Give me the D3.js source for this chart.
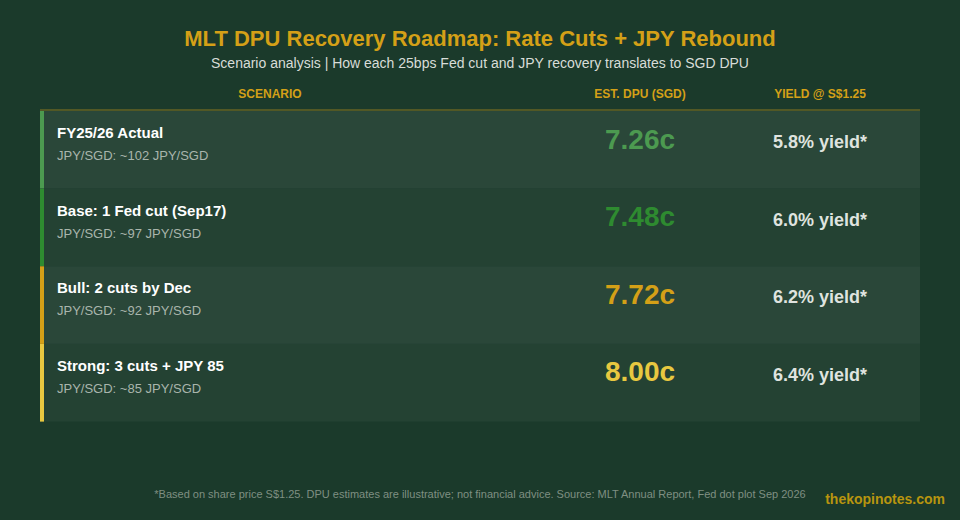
<!DOCTYPE html>
<html>
<head>
<meta charset="utf-8">
<script src="https://cdn.jsdelivr.net/npm/d3@7"></script>
<style>
  html, body { margin: 0; padding: 0; background: #1b3a2b; }
  svg { display: block; font-family: "Liberation Sans", Arial, Helvetica, sans-serif; }
</style>
</head>
<body>
<div id="chart"></div>
<script>
// scenario rows, top to bottom
const scenarios = ["FY25/26 Actual", "Base: 1 Fed cut (Sep17)", "Bull: 2 cuts by Dec", "Strong: 3 cuts + JPY 85"];
const jpySgd = [102, 97, 92, 85];
const dpu = [7.26, 7.48, 7.72, 8.00];
const yields = [5.8, 6.0, 6.2, 6.4];
const accents = ["#4c9a50", "#2e8b30", "#d4a017", "#e8c840"];
const columns = ["SCENARIO", "EST. DPU (SGD)", "YIELD @ S$1.25"];

const width = 960, height = 520;
const gold = "#d4a017";

const svg = d3.select("#chart").append("svg")
    .attr("width", width)
    .attr("height", height)
    .attr("viewBox", [0, 0, width, height]);

svg.append("rect")
    .attr("width", width)
    .attr("height", height)
    .attr("fill", "#1b3a2b");

// title block
svg.append("text")
    .attr("x", width / 2)
    .attr("y", 45.5)
    .attr("text-anchor", "middle")
    .attr("font-size", 22)
    .attr("font-weight", "bold")
    .attr("fill", gold)
    .text("MLT DPU Recovery Roadmap: Rate Cuts + JPY Rebound");

svg.append("text")
    .attr("x", width / 2)
    .attr("y", 68)
    .attr("text-anchor", "middle")
    .attr("font-size", 14)
    .attr("fill", "#d8ddd8")
    .text("Scenario analysis | How each 25bps Fed cut and JPY recovery translates to SGD DPU");

// table geometry
const left = 40, right = 920;
const colX = {"SCENARIO": 270, "EST. DPU (SGD)": 640, "YIELD @ S$1.25": 820};

const y = d3.scaleBand()
    .domain(d3.range(scenarios.length))
    .range([111, 421.6])
    .paddingInner(0);

// header
svg.append("g")
  .selectAll("text")
  .data(columns)
  .join("text")
    .attr("x", d => colX[d])
    .attr("y", 98)
    .attr("text-anchor", "middle")
    .attr("font-size", 12)
    .attr("font-weight", "bold")
    .attr("fill", gold)
    .text(d => d);

svg.append("rect")
    .attr("x", left)
    .attr("y", 109)
    .attr("width", right - left)
    .attr("height", 2)
    .attr("fill", gold)
    .attr("fill-opacity", 0.3);

// rows
const rows = svg.append("g")
  .selectAll("g")
  .data(scenarios)
  .join("g")
    .attr("transform", (d, i) => `translate(0,${y(i)})`);

rows.append("rect")
    .attr("x", left)
    .attr("width", right - left)
    .attr("height", y.bandwidth())
    .attr("fill", (d, i) => i % 2 === 0 ? "#2a4739" : "#244233");

rows.append("rect")
    .attr("x", left)
    .attr("width", 4)
    .attr("height", y.bandwidth())
    .attr("fill", (d, i) => accents[i]);

rows.append("text")
    .attr("x", 57)
    .attr("y", 27)
    .attr("font-size", 15)
    .attr("font-weight", "bold")
    .attr("fill", "#ffffff")
    .text(d => d);

rows.append("text")
    .attr("x", 57)
    .attr("y", 49)
    .attr("font-size", 13)
    .attr("fill", "#a9b5ac")
    .text((d, i) => `JPY/SGD: ~${jpySgd[i]} JPY/SGD`);

rows.append("text")
    .attr("x", colX["EST. DPU (SGD)"])
    .attr("y", 37.5)
    .attr("text-anchor", "middle")
    .attr("font-size", 28)
    .attr("font-weight", "bold")
    .attr("fill", (d, i) => accents[i])
    .text((d, i) => d3.format(".2f")(dpu[i]) + "c");

rows.append("text")
    .attr("x", colX["YIELD @ S$1.25"])
    .attr("y", 37)
    .attr("text-anchor", "middle")
    .attr("font-size", 18)
    .attr("font-weight", "bold")
    .attr("fill", "#dfe3df")
    .text((d, i) => d3.format(".1f")(yields[i]) + "% yield*");

// footer
svg.append("text")
    .attr("x", width / 2)
    .attr("y", 498)
    .attr("text-anchor", "middle")
    .attr("font-size", 11)
    .attr("fill", "#7f8f82")
    .text("*Based on share price S$1.25. DPU estimates are illustrative; not financial advice. Source: MLT Annual Report, Fed dot plot Sep 2026");

svg.append("text")
    .attr("x", 945)
    .attr("y", 504)
    .attr("text-anchor", "end")
    .attr("font-size", 14)
    .attr("font-weight", "bold")
    .attr("fill", "#b8950f")
    .text("thekopinotes.com");
</script>
</body>
</html>
